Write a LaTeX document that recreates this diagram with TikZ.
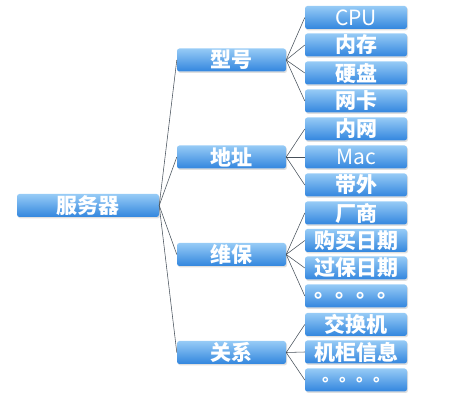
\documentclass[tikz,border=0pt]{standalone}
\usepackage{fontspec}
\newfontfamily\cjk{Noto Sans CJK SC}
\usepackage{tikz}
\usetikzlibrary{positioning,shadows}

\definecolor{boxtop}{RGB}{150,203,246}
\definecolor{boxbot}{RGB}{50,134,222}
\definecolor{linkgray}{RGB}{70,80,90}

\tikzset{
	box/.style={rectangle, rounded corners=2.5pt, top color=boxtop, bottom color=boxbot,
		draw=none, text=white, inner sep=0pt, minimum height=23pt,
		font=\cjk\bfseries\fontsize{21}{21}\selectfont,
		drop shadow={opacity=0.25, shadow xshift=1pt, shadow yshift=-1.5pt}},
	rootbox/.style={box, minimum width=142pt},
	midbox/.style={box, minimum width=109pt},
	leafbox/.style={box, minimum width=102pt},
	latinbox/.style={leafbox, font=\cjk\fontsize{21}{21}\selectfont},
	link/.style={draw=linkgray, line width=0.55pt}
}

\begin{document}
\begin{tikzpicture}[x=1pt,y=-1pt]
				\useasboundingbox (0,0) rectangle (472,414);
				%%%nodes
				%root
				\node[rootbox] at (88,205.5) (fwq){服务器};
				%level 1
				\node[midbox] at (231.5,60) (xh){型号};
				\node[midbox] at (231.5,157) (dz){地址};
				\node[midbox] at (231.5,254.5) (wb){维保};
				\node[midbox] at (231.5,352.5) (gx){关系};
				%level 2, under xh
				\node[latinbox] at (356,17.5) (cpu){CPU};
				\node[leafbox] at (356,45) (nc){内存};
				\node[leafbox] at (356,73) (yp){硬盘};
				\node[leafbox] at (356,101) (wk){网卡};
				%under dz
				\node[leafbox] at (356,129) (nw){内网};
				\node[latinbox] at (356,157) (mac){Mac};
				\node[leafbox] at (356,185) (dw){带外};
				%under wb
				\node[leafbox] at (356,213) (cs){厂商};
				\node[leafbox] at (356,240.5) (gm){购买日期};
				\node[leafbox] at (356,268) (gb){过保日期};
				\node[leafbox] at (356,296) (wbx){。。。。};
				%under gx
				\node[leafbox] at (356,324.5) (jhj){交换机};
				\node[leafbox] at (356,352) (jg){机柜信息};
				\node[leafbox, font=\cjk\bfseries\fontsize{17}{17}\selectfont] at (356,380) (gxx){。。。。};
				%%%links
				%level 1
				\draw[link] (fwq.east) -- (xh.west);
				\draw[link] (fwq.east) -- (dz.west);
				\draw[link] (fwq.east) -- (wb.west);
				\draw[link] (fwq.east) -- (gx.west);
				%level 2
				\draw[link] (xh.east) -- (cpu.west);
				\draw[link] (xh.east) -- (nc.west);
				\draw[link] (xh.east) -- (yp.west);
				\draw[link] (xh.east) -- (wk.west);
				\draw[link] (dz.east) -- (nw.west);
				\draw[link] (dz.east) -- (mac.west);
				\draw[link] (dz.east) -- (dw.west);
				\draw[link] (wb.east) -- (cs.west);
				\draw[link] (wb.east) -- (gm.west);
				\draw[link] (wb.east) -- (gb.west);
				\draw[link] (wb.east) -- (wbx.west);
				\draw[link] (gx.east) -- (jhj.west);
				\draw[link] (gx.east) -- (jg.west);
				\draw[link] (gx.east) -- (gxx.west);
			\end{tikzpicture}
\end{document}
